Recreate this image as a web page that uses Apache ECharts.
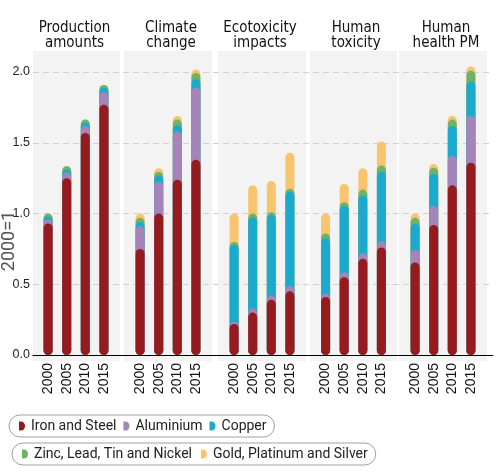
<!DOCTYPE html>
<html>
<head>
<meta charset="utf-8">
<script src="https://cdn.jsdelivr.net/npm/echarts@6/dist/echarts.min.js"></script>
<style>html,body{margin:0;padding:0;background:#fff;}#c{width:501px;height:472px;}</style>
</head>
<body>
<div id="c"></div>
<script>
// ---- data ----
const years = ['2000', '2005', '2010', '2015'];
const panelTitles = ['Production\namounts', 'Climate\nchange', 'Ecotoxicity\nimpacts', 'Human\ntoxicity', 'Human\nhealth PM'];
const metalNames = ['Iron and Steel', 'Aluminium', 'Copper', 'Zinc, Lead, Tin and Nickel', 'Gold, Platinum and Silver'];
const yTicks = [0, 0.5, 1.0, 1.5, 2.0];
// contributions (2000 = 1), one row per panel, values per year
const ironSteel = [
  [0.93, 1.25, 1.57, 1.77],
  [0.75, 1.00, 1.24, 1.38],
  [0.22, 0.30, 0.39, 0.45],
  [0.41, 0.55, 0.68, 0.76],
  [0.655, 0.92, 1.20, 1.36]
];
const aluminium = [
  [0.03, 0.04, 0.05, 0.09],
  [0.16, 0.225, 0.34, 0.51],
  [0.015, 0.03, 0.03, 0.04],
  [0.025, 0.035, 0.04, 0.045],
  [0.09, 0.135, 0.21, 0.33]
];
const copper = [
  [0.02, 0.02, 0.025, 0.03],
  [0.03, 0.045, 0.045, 0.06],
  [0.545, 0.645, 0.57, 0.665],
  [0.39, 0.47, 0.41, 0.49],
  [0.185, 0.225, 0.21, 0.245]
];
const zincLeadTinNickel = [
  [0.02, 0.025, 0.02, 0.02],
  [0.03, 0.025, 0.04, 0.045],
  [0.02, 0.025, 0.02, 0.02],
  [0.035, 0.025, 0.04, 0.045],
  [0.04, 0.045, 0.045, 0.075]
];
const goldPlatinumSilver = [
  [0, 0, 0, 0],
  [0.03, 0.025, 0.025, 0.025],
  [0.20, 0.20, 0.22, 0.255],
  [0.14, 0.13, 0.15, 0.17],
  [0.03, 0.025, 0.025, 0.03]
];

// ---- styles / layout ----
const metalColors = ['#961b1e', '#a585b9', '#1aa9cf', '#6fb466', '#f8c46e'];
const panelLeft = [33, 124, 218, 310, 399];
const panelWidth = [87, 88, 88, 87, 88];
const barCenter = [76, 168, 262, 353.5, 443];
const titleCenter = [74.5, 171, 260, 356, 446];
const condensed = "'Liberation Sans Narrow', 'DejaVu Sans Condensed', 'Liberation Sans', sans-serif";

const metalData = [ironSteel, aluminium, copper, zincLeadTinNickel, goldPlatinumSilver];

const grids = [{ left: 33, right: 8, top: 72, height: 283 }];
const xAxes = [{
  gridIndex: 0, type: 'value', min: 0, max: 1,
  axisLine: { show: true, lineStyle: { color: '#000', width: 1 } },
  axisTick: { show: false }, axisLabel: { show: false }, splitLine: { show: false }
}];
const yAxes = [{
  gridIndex: 0, type: 'value', min: yTicks[0], max: yTicks[yTicks.length - 1], interval: 0.5,
  axisLine: { show: false }, axisTick: { show: false },
  axisLabel: { formatter: v => v.toFixed(1), margin: 3, fontSize: 12.5, color: '#222', fontFamily: 'Liberation Sans' },
  splitLine: { lineStyle: { color: '#d2d2d2', width: 1, type: [6, 4] } }
}];
const series = [];
panelTitles.forEach((t, i) => {
  grids.push({ left: barCenter[i] - 37.2, width: 74.4, top: 51, height: 304 });
  xAxes.push({
    gridIndex: i + 1, type: 'category', data: years,
    axisLine: { show: false }, axisTick: { show: false },
    axisLabel: { rotate: 90, margin: 8, fontSize: 14, color: '#111', fontFamily: 'Liberation Sans' }
  });
  yAxes.push({ gridIndex: i + 1, type: 'value', min: 0, max: 2.15, show: false });
  // cumulative tops
  const cum = [];
  let run = [0, 0, 0, 0];
  metalData.forEach((arr, m) => {
    run = run.map((r, k) => r + arr[i][k]);
    cum.push(run.slice());
  });
  // draw top layer first so lower layers overlap it
  for (let m = metalNames.length - 1; m >= 0; m--) {
    series.push({
      type: 'bar', name: metalNames[m], xAxisIndex: i + 1, yAxisIndex: i + 1,
      data: cum[m].map(v => +v.toFixed(4)),
      barWidth: 9, barGap: '-100%',
      itemStyle: { color: metalColors[m], borderRadius: 4.5 },
      emphasis: { disabled: true }, animation: false
    });
  }
});

const legendIcon = 'path://M0,0 L2,0 A4,4.5 0 0 1 2,9 L0,9 Z';
const legendCommon = {
  orient: 'horizontal', selectedMode: false, icon: legendIcon,
  itemWidth: 8, itemHeight: 9, itemGap: 7,
  borderColor: '#a0a0a0', borderWidth: 1, borderRadius: 11,
  padding: [4, 8, 4, 10],
  textStyle: { fontFamily: 'Roboto', fontSize: 14, color: '#222' }
};

const option = {
  animation: false,
  backgroundColor: '#fff',
  title: panelTitles.map((t, i) => ({
    text: t, left: titleCenter[i], top: 21, textAlign: 'center', padding: 0,
    textStyle: { fontSize: 15, fontWeight: 'normal', lineHeight: 15, color: '#111', fontFamily: condensed }
  })),
  legend: [
    Object.assign({}, legendCommon, { left: 9, top: 415, data: metalNames.slice(0, 3) }),
    Object.assign({}, legendCommon, { left: 12, top: 443, data: metalNames.slice(3), itemGap: 9 })
  ],
  graphic: panelLeft.map((x, i) => ({
    type: 'rect', z: -1, silent: true,
    shape: { x: x, y: 51, width: panelWidth[i], height: 310 },
    style: { fill: '#f3f3f3' }
  })).concat([{
    type: 'text', x: 9, y: 241, rotation: Math.PI / 2, silent: true,
    style: { text: '2000=1', fill: '#555', font: '18px Roboto', textAlign: 'center', textVerticalAlign: 'middle' }
  }]),
  grid: grids,
  xAxis: xAxes,
  yAxis: yAxes,
  series: series
};
const chart = echarts.init(document.getElementById('c'), null, { renderer: 'canvas' });
chart.setOption(option);
</script>
</body>
</html>
